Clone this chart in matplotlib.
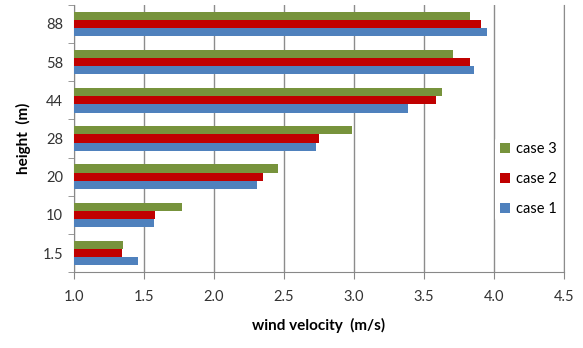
import numpy as np
import matplotlib
matplotlib.use("Agg")
import matplotlib.pyplot as plt
from matplotlib.ticker import FixedLocator

plt.rcParams['font.family'] = ['Lato', 'DejaVu Sans']

heights = ['1.5', '10', '20', '28', '44', '58', '88']
case1 = [1.46, 1.57, 2.31, 2.73, 3.39, 3.86, 3.95]
case2 = [1.34, 1.58, 2.35, 2.75, 3.59, 3.83, 3.91]
case3 = [1.35, 1.77, 2.46, 2.99, 3.63, 3.71, 3.83]

green = '#77933C'
red = '#C00000'
blue = '#4F81BD'

fig = plt.figure(figsize=(5.83, 3.48), dpi=100)
ax = fig.add_axes([0.127, 0.218, 0.84, 0.768])

y = np.arange(len(heights))
h = 0.215
ax.barh(y + h, np.array(case3) - 1.0, left=1.0, height=h, color=green, label='case 3', zorder=3)
ax.barh(y, np.array(case2) - 1.0, left=1.0, height=h, color=red, label='case 2', zorder=3)
ax.barh(y - h, np.array(case1) - 1.0, left=1.0, height=h, color=blue, label='case 1', zorder=3)

ax.set_xlim(1.0, 4.5)
ax.set_ylim(-0.5, len(heights) - 0.5)
ax.set_xticks(np.arange(1.0, 4.51, 0.5))
ax.set_xticklabels(['%.1f' % v for v in np.arange(1.0, 4.51, 0.5)])
ax.set_yticks(y)
ax.set_yticklabels(heights)
ax.yaxis.set_minor_locator(FixedLocator(np.arange(-0.5, len(heights), 1.0)))

ax.grid(axis='x', color='#8c8c8c', linewidth=1.0, zorder=0)
ax.tick_params(axis='y', which='major', length=0, pad=8, labelsize=10.5, labelcolor='#333333')
ax.tick_params(axis='y', which='minor', length=4, color='#888888')
ax.tick_params(axis='x', which='major', length=5, color='#888888', pad=8, labelsize=10.5, labelcolor='#333333')

ax.spines['top'].set_visible(False)
ax.spines['right'].set_color('#8c8c8c')
ax.spines['left'].set_color('#888888')
ax.spines['bottom'].set_color('#888888')

ax.set_xlabel('wind velocity  (m/s)', fontsize=11, fontweight='bold', labelpad=10)
ax.set_ylabel('height  (m)', fontsize=11, fontweight='bold', labelpad=8)

leg = ax.legend(loc='upper left', bbox_to_anchor=(0.845, 0.53), frameon=True,
                fontsize=10.5, handlelength=0.7, handleheight=0.7, handletextpad=0.4,
                labelspacing=1.1, borderpad=0.3)
leg.get_frame().set_edgecolor('none')
leg.get_frame().set_facecolor('white')
leg.get_frame().set_alpha(1.0)

fig.savefig('out.png', dpi=100)
